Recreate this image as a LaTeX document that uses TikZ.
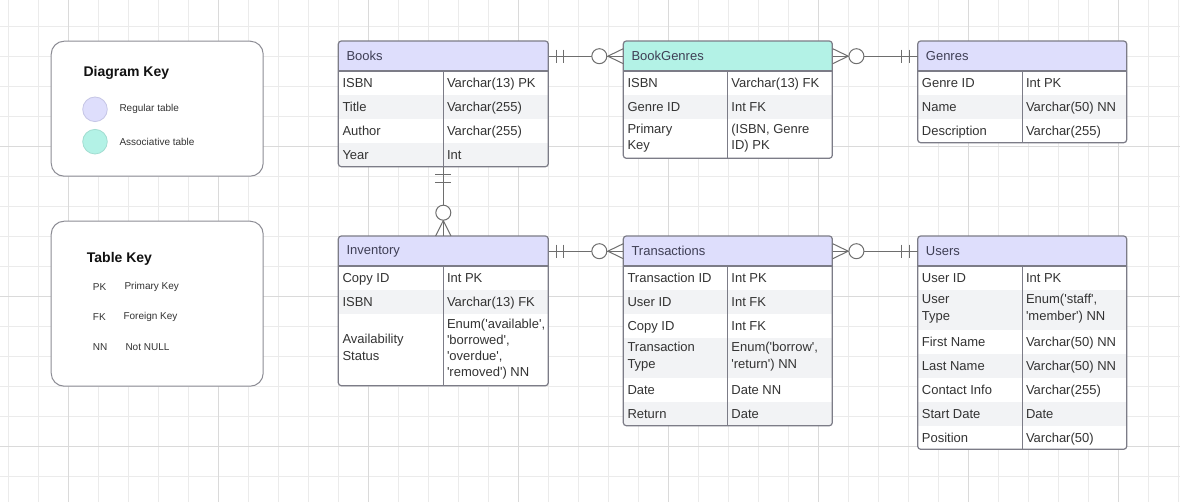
\documentclass[tikz,border=0pt]{standalone}
\usepackage{fontspec}
\setmainfont{Liberation Sans}[Ligatures=TeXOff]
\usetikzlibrary{calc}
\definecolor{regfill}{HTML}{DEDEFC}
\definecolor{regdraw}{HTML}{C6C6E6}
\definecolor{assocfill}{HTML}{B3F2E6}
\definecolor{assocdraw}{HTML}{A2DDD1}
\definecolor{stripe}{HTML}{F2F3F5}
\definecolor{bordc}{HTML}{7C7C87}
\definecolor{connc}{HTML}{6E6E6E}
\definecolor{txt}{HTML}{333333}
\definecolor{hdrtxt}{HTML}{3F3F55}
\definecolor{keytxt}{HTML}{111111}
\definecolor{keybord}{HTML}{8C8C94}
\definecolor{gridminor}{HTML}{EBEBEB}
\definecolor{gridmajor}{HTML}{DADADA}
\tikzset{
  celltext/.style={anchor=west, inner sep=0pt, align=left, font=\fontsize{13}{16.5}\selectfont, text=txt,
    yshift=-1.5pt, execute at begin node=\strut, execute at end node=\strut},
  hdr/.style={anchor=north west, inner xsep=8pt, inner ysep=0pt, minimum height=30pt, align=left, font=\fontsize{13}{16}\selectfont, text=hdrtxt},
  tborder/.style={draw=bordc, line width=1.2pt},
  conn/.style={draw=connc, line width=1pt},
  keybox/.style={draw=keybord, line width=1pt, fill=white, rounded corners=13pt, anchor=north west, inner sep=0pt},
  keytitle/.style={anchor=base west, inner sep=0pt, font=\fontsize{14}{16}\selectfont\bfseries, text=keytxt},
  keytext/.style={anchor=west, inner sep=0pt, font=\fontsize{10}{12}\selectfont, text=txt},
  legend/.style={circle, minimum size=24.6pt, inner sep=0pt, line width=0.8pt},
  gminor/.style={draw=gridminor, line width=0.8pt},
  gmajor/.style={draw=gridmajor, line width=0.8pt}
}
% #1 name, #2 x1, #3 xd, #4 ycenter, #5 left text, #6 right text
\newcommand\errow[6]{%
  \node[celltext] (#1a) at ({#2+4},#4) {#5};
  \node[celltext] (#1b) at ({#3+3.5},#4) {#6};}
\begin{document}
\begin{tikzpicture}[x=1pt,y=-1pt]
\useasboundingbox (0,0) rectangle (1180,502);
\fill[white] (0,0) rectangle (1180,502);
% grid
\foreach \i in {0,...,39} \draw[gminor] ({8.3+30*\i},0) -- ({8.3+30*\i},502);
\foreach \j in {0,...,16} \draw[gminor] (0,{26.7+30*\j}) -- (1180,{26.7+30*\j});
\foreach \i in {2,7,...,37} \draw[gmajor] ({8.3+30*\i},0) -- ({8.3+30*\i},502);
\foreach \j in {4,9,14} \draw[gmajor] (0,{26.7+30*\j}) -- (1180,{26.7+30*\j});

% ---------- keys ----------
\node[keybox, minimum width=212pt, minimum height=135pt] (dkey) at (50.7,40.7) {};
\node[keytitle] (dkeyt) at (83.3,76.7) {Diagram Key};
\node[legend, fill=regfill, draw=regdraw] (dreg) at (95,109.3) {};
\node[keytext] (dregt) at (119.3,109.3) {Regular table};
\node[legend, fill=assocfill, draw=assocdraw] (dass) at (95,141.7) {};
\node[keytext] (dasst) at (119.3,141.7) {Associative table};

\node[keybox, minimum width=212pt, minimum height=165pt] (tkey) at (50.7,220.7) {};
\node[keytitle] (tkeyt) at (86.7,262.3) {Table Key};
\node[keytext] (pk) at (92.7,286.7) {PK};
\node[keytext] (pkt) at (124.3,286.7) {Primary Key};
\node[keytext] (fk) at (92.7,316.7) {FK};
\node[keytext] (fkt) at (123.3,316.7) {Foreign Key};
\node[keytext] (nn) at (92.7,346.7) {NN};
\node[keytext] (nnt) at (125.3,346.7) {Not NULL};

% ---------- Books ----------
\begin{scope}
\clip[rounded corners=3pt] (338.3,41) rectangle (548.3,166.7);
\fill[white] (338.3,41) rectangle (548.3,166.7);
\fill[regfill] (338.3,41) rectangle (548.3,71);
\fill[stripe] (338.3,95) rectangle (548.3,119);
\fill[stripe] (338.3,143) rectangle (548.3,166.7);
\end{scope}
\node[hdr, text width=194pt] (books) at (338.3,41) {Books};
\errow{bk1}{338.3}{443.3}{83}{ISBN}{Varchar(13) PK}
\errow{bk2}{338.3}{443.3}{107}{Title}{Varchar(255)}
\errow{bk3}{338.3}{443.3}{131}{Author}{Varchar(255)}
\errow{bk4}{338.3}{443.3}{155}{Year}{Int}
\draw[tborder, rounded corners=3pt] (338.3,41) rectangle (548.3,166.7);
\draw[tborder] (338.3,71) -- (548.3,71);
\draw[tborder] (443.3,71) -- (443.3,166.7);

% ---------- BookGenres ----------
\begin{scope}
\clip[rounded corners=3pt] (623.3,41) rectangle (832.3,158.3);
\fill[white] (623.3,41) rectangle (832.3,158.3);
\fill[assocfill] (623.3,41) rectangle (832.3,71);
\fill[stripe] (623.3,95) rectangle (832.3,119);
\end{scope}
\node[hdr, text width=193pt] (bookgenres) at (623.3,41) {BookGenres};
\errow{bg1}{623.3}{727.7}{83}{ISBN}{Varchar(13) FK}
\errow{bg2}{623.3}{727.7}{107}{Genre ID}{Int FK}
\errow{bg3}{623.3}{727.7}{138}{Primary\\Key}{(ISBN, Genre\\ID) PK}
\draw[tborder, rounded corners=3pt] (623.3,41) rectangle (832.3,158.3);
\draw[tborder] (623.3,71) -- (832.3,71);
\draw[tborder] (727.7,71) -- (727.7,158.3);

% ---------- Genres ----------
\begin{scope}
\clip[rounded corners=3pt] (917.7,41) rectangle (1126.7,142.7);
\fill[white] (917.7,41) rectangle (1126.7,142.7);
\fill[regfill] (917.7,41) rectangle (1126.7,71);
\fill[stripe] (917.7,95) rectangle (1126.7,119);
\end{scope}
\node[hdr, text width=193pt] (genres) at (917.7,41) {Genres};
\errow{gn1}{917.7}{1022.3}{83}{Genre ID}{Int PK}
\errow{gn2}{917.7}{1022.3}{107}{Name}{Varchar(50) NN}
\errow{gn3}{917.7}{1022.3}{131}{Description}{Varchar(255)}
\draw[tborder, rounded corners=3pt] (917.7,41) rectangle (1126.7,142.7);
\draw[tborder] (917.7,71) -- (1126.7,71);
\draw[tborder] (1022.3,71) -- (1022.3,142.7);

% ---------- Inventory ----------
\begin{scope}
\clip[rounded corners=3pt] (338.3,236) rectangle (548.3,385.7);
\fill[white] (338.3,236) rectangle (548.3,385.7);
\fill[regfill] (338.3,236) rectangle (548.3,266);
\fill[stripe] (338.3,290) rectangle (548.3,314);
\end{scope}
\node[hdr, text width=194pt] (inventory) at (338.3,236) {Inventory};
\errow{iv1}{338.3}{443.3}{278}{Copy ID}{Int PK}
\errow{iv2}{338.3}{443.3}{302}{ISBN}{Varchar(13) FK}
\node[celltext] (iv3a) at (342.3,348.5) {Availability\\Status};
\node[celltext, font=\fontsize{13}{16}\selectfont] (iv3b) at (446.8,348.5) {Enum('available',\\'borrowed',\\'overdue',\\'removed') NN};
\draw[tborder, rounded corners=3pt] (338.3,236) rectangle (548.3,385.7);
\draw[tborder] (338.3,266) -- (548.3,266);
\draw[tborder] (443.3,266) -- (443.3,385.7);

% ---------- Transactions ----------
\begin{scope}
\clip[rounded corners=3pt] (623.3,236) rectangle (832.3,425.7);
\fill[white] (623.3,236) rectangle (832.3,425.7);
\fill[regfill] (623.3,236) rectangle (832.3,266);
\fill[stripe] (623.3,290) rectangle (832.3,314);
\fill[stripe] (623.3,338) rectangle (832.3,378.3);
\fill[stripe] (623.3,402) rectangle (832.3,425.7);
\end{scope}
\node[hdr, text width=193pt] (transactions) at (623.3,236) {Transactions};
\errow{tr1}{623.3}{727.7}{278}{Transaction ID}{Int PK}
\errow{tr2}{623.3}{727.7}{302}{User ID}{Int FK}
\errow{tr3}{623.3}{727.7}{326}{Copy ID}{Int FK}
\errow{tr4}{623.3}{727.7}{356.5}{Transaction\\Type}{Enum('borrow',\\'return') NN}
\errow{tr5}{623.3}{727.7}{390}{Date}{Date NN}
\errow{tr6}{623.3}{727.7}{414}{Return}{Date}
\draw[tborder, rounded corners=3pt] (623.3,236) rectangle (832.3,425.7);
\draw[tborder] (623.3,266) -- (832.3,266);
\draw[tborder] (727.7,266) -- (727.7,425.7);

% ---------- Users ----------
\begin{scope}
\clip[rounded corners=3pt] (917.7,236) rectangle (1126.7,449.3);
\fill[white] (917.7,236) rectangle (1126.7,449.3);
\fill[regfill] (917.7,236) rectangle (1126.7,266);
\fill[stripe] (917.7,290) rectangle (1126.7,330);
\fill[stripe] (917.7,354) rectangle (1126.7,378.3);
\fill[stripe] (917.7,402) rectangle (1126.7,426);
\end{scope}
\node[hdr, text width=193pt] (users) at (917.7,236) {Users};
\errow{us1}{917.7}{1022.3}{278}{User ID}{Int PK}
\errow{us2}{917.7}{1022.3}{308.5}{User\\Type}{Enum('staff',\\'member') NN}
\errow{us3}{917.7}{1022.3}{342}{First Name}{Varchar(50) NN}
\errow{us4}{917.7}{1022.3}{366}{Last Name}{Varchar(50) NN}
\errow{us5}{917.7}{1022.3}{390}{Contact Info}{Varchar(255)}
\errow{us6}{917.7}{1022.3}{414}{Start Date}{Date}
\errow{us7}{917.7}{1022.3}{437.5}{Position}{Varchar(50)}
\draw[tborder, rounded corners=3pt] (917.7,236) rectangle (1126.7,449.3);
\draw[tborder] (917.7,266) -- (1126.7,266);
\draw[tborder] (1022.3,266) -- (1022.3,449.3);

% ---------- connectors ----------
% Books -- BookGenres
\draw[conn] (books.east) -- (bookgenres.west);
\draw[conn] ($(books.east)+(7.5,-6.5)$) -- ++(0,13);
\draw[conn] ($(books.east)+(15,-6.5)$) -- ++(0,13);
\draw[conn] ($(bookgenres.west)+(-15.5,0)$) -- ++(15.5,-7.5);
\draw[conn] ($(bookgenres.west)+(-15.5,0)$) -- ++(15.5,7.5);
\draw[conn, fill=white] ($(bookgenres.west)+(-24,0)$) circle (7.5pt);
% BookGenres -- Genres
\draw[conn] (bookgenres.east) -- (genres.west);
\draw[conn] ($(bookgenres.east)+(15.5,0)$) -- ++(-15.5,-7.5);
\draw[conn] ($(bookgenres.east)+(15.5,0)$) -- ++(-15.5,7.5);
\draw[conn, fill=white] ($(bookgenres.east)+(23.7,0)$) circle (7.5pt);
\draw[conn] ($(genres.west)+(-8.4,-6.5)$) -- ++(0,13);
\draw[conn] ($(genres.west)+(-16,-6.5)$) -- ++(0,13);
% Inventory -- Transactions
\draw[conn] (inventory.east) -- (transactions.west);
\draw[conn] ($(inventory.east)+(7.5,-6.5)$) -- ++(0,13);
\draw[conn] ($(inventory.east)+(15,-6.5)$) -- ++(0,13);
\draw[conn] ($(transactions.west)+(-15.5,0)$) -- ++(15.5,-7.5);
\draw[conn] ($(transactions.west)+(-15.5,0)$) -- ++(15.5,7.5);
\draw[conn, fill=white] ($(transactions.west)+(-24,0)$) circle (7.5pt);
% Transactions -- Users
\draw[conn] (transactions.east) -- (users.west);
\draw[conn] ($(transactions.east)+(15.5,0)$) -- ++(-15.5,-7.5);
\draw[conn] ($(transactions.east)+(15.5,0)$) -- ++(-15.5,7.5);
\draw[conn, fill=white] ($(transactions.east)+(23.7,0)$) circle (7.5pt);
\draw[conn] ($(users.west)+(-8.4,-6.5)$) -- ++(0,13);
\draw[conn] ($(users.west)+(-16,-6.5)$) -- ++(0,13);
% Books -- Inventory
\coordinate (booksS) at (443.3,166.7);
\coordinate (invN) at (443.3,236);
\draw[conn] (booksS) -- (invN);
\draw[conn] ($(booksS)+(-8,8.3)$) -- ++(16,0);
\draw[conn] ($(booksS)+(-8,15.6)$) -- ++(16,0);
\draw[conn] ($(invN)+(0,-15.5)$) -- ++(-7.7,15.5);
\draw[conn] ($(invN)+(0,-15.5)$) -- ++(7.7,15.5);
\draw[conn, fill=white] ($(invN)+(0,-23.3)$) circle (7.5pt);
\end{tikzpicture}
\end{document}
